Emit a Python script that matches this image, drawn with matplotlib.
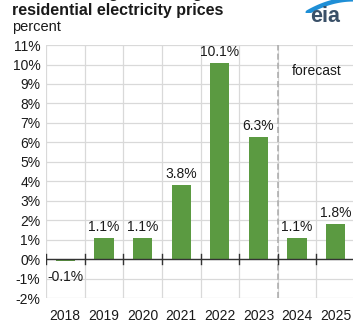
import matplotlib.pyplot as plt
import numpy as np

years = ["2018", "2019", "2020", "2021", "2022", "2023", "2024", "2025"]
change = [-0.1, 1.1, 1.1, 3.8, 10.1, 6.3, 1.1, 1.8]
labels = ["-0.1%", "1.1%", "1.1%", "3.8%", "10.1%", "6.3%", "1.1%", "1.8%"]
yticks = list(range(-2, 12))

GREEN = "#5b9a41"
GRID = "#d9d9d9"
TXT = "#1a1a1a"

plt.rcParams["font.family"] = ["Liberation Sans", "DejaVu Sans"]

fig = plt.figure(figsize=(3.53, 3.24), dpi=100)
ax = fig.add_axes([0.130, 0.080, 0.876, 0.781])

x = np.arange(len(years))
ax.bar(x, change, width=0.5, color=GREEN, zorder=3)

ax.set_xlim(-0.5, len(years) - 0.5)
ax.set_ylim(-2, 11)
ax.set_yticks(yticks)
ax.set_yticklabels([f"{t}%" for t in yticks], fontsize=10, color=TXT)
ax.set_xticks(x)
ax.set_xticklabels(years, fontsize=10, color=TXT)
ax.tick_params(length=0, pad=4)
ax.tick_params(axis="x", pad=8)
for s in ax.spines.values():
    s.set_visible(False)

# grid: horizontal every 1%, vertical at category boundaries
for t in yticks:
    ax.axhline(t, color=GRID, lw=0.9, zorder=0)
for b in np.arange(-0.5, len(years)):
    ax.axvline(b, color=GRID, lw=0.9, zorder=0)

# zero line with small boundary ticks
ax.axhline(0, color="#333333", lw=1.0, zorder=4)
for b in np.arange(-0.5, len(years)):
    ax.plot([b, b], [-0.25, 0.25], color="#333333", lw=1.0, zorder=4)

# forecast divider
ax.axvline(5.5, color="#aaaaaa", lw=1.1, ls=(0, (4, 2)), zorder=2)
ax.text(6.5, 9.65, "forecast", ha="center", va="center", fontsize=10, color=TXT)

for xi, v, lab in zip(x, change, labels):
    if v < 0:
        ax.text(xi, v - 0.45, lab, ha="center", va="top", fontsize=10, color=TXT)
    else:
        ax.text(xi, v + 0.2, lab, ha="center", va="bottom", fontsize=10, color=TXT)

# title (first line sits mostly above the top edge, as in the source image)
fig.text(0.034, 1.006, "Annual change in average U.S.", fontsize=11.5, fontweight="bold",
         color=TXT, va="baseline")
fig.text(0.034, 0.968, "residential electricity prices", fontsize=11.5, fontweight="bold",
         color=TXT, va="center")
fig.text(0.034, 0.917, "percent", fontsize=10.5, color=TXT, va="center")

# eia logo
fig.text(0.922, 0.950, "eia", fontsize=15.5, fontweight="bold", color="#3a5068",
         ha="center", va="center")
logo = fig.add_axes([0.865, 0.960, 0.135, 0.040])
logo.set_xlim(0, 1)
logo.set_ylim(0, 1)
logo.axis("off")
t = np.linspace(0, 1, 40)
logo.plot(0.05 + 0.95 * t, 0.05 + 1.0 * (1 - (1 - t) ** 2), color="#1f8fd6",
          lw=3.2, solid_capstyle="round")

fig.savefig("out.png", dpi=100)
